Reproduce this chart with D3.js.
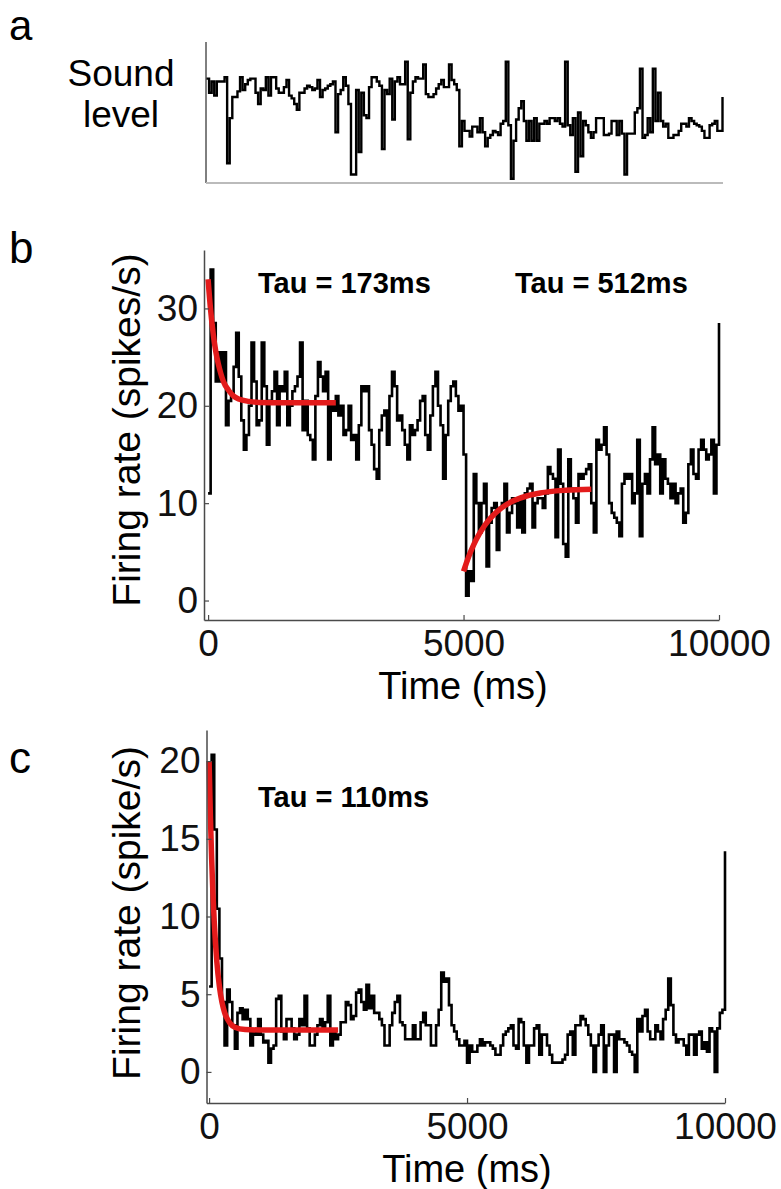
<!DOCTYPE html>
<html><head><meta charset="utf-8">
<script src="https://cdn.jsdelivr.net/npm/d3@7"></script>
<style>body{margin:0;background:#fff}svg{display:block}text{font-family:"Liberation Sans",Arial,sans-serif}</style>
</head><body>
<svg id="fig" width="781" height="1189"></svg>
<script>
// ---------- DATA (50 ms bins, 0..10000 ms; last entry is the value at 10000 ms) ----------
const binMs = 50;
const soundLevel = [
74,64,72,62,72,72,72,75,14,46, 61,61,65,75,66,70,73,74,74,64,
56,67,66,75,62,75,75,67,64,64, 68,73,62,60,56,52,64,64,67,69,
68,66,67,73,61,66,67,69,70,72, 36,63,66,75,69,56,6,6,66,22,
64,48,46,68,75,75,72,69,24,66, 63,74,45,72,75,70,70,86,31,64,
72,75,74,74,84,63,61,61,63,67, 70,73,68,68,84,73,70,66,26,44,
37,37,33,40,40,36,46,36,26,32, 34,37,36,34,42,44,86,41,3,30,
45,53,58,44,30,44,30,46,30,42, 42,44,42,46,46,44,46,42,40,86,
41,34,46,8,50,19,44,41,36,32, 36,46,46,46,34,34,35,44,44,34,
44,35,6,35,35,35,50,53,81,32, 34,46,36,81,44,64,44,40,42,32,
32,34,34,37,42,42,40,46,44,42, 41,40,37,32,32,41,42,44,37,37, 61];

const rateB = [
11,34,28.5,22.5,25.5,22.5,25.5,18,20.5,21, 24,27.5,23,18.5,15.5,17,20,26.5,22.5,18,
18.5,26.5,22,16,20.5,21.5,23.5,18,22,21.5, 23.5,18,20,21.5,22,23,26.5,17.5,20.5,17,
16.5,14.5,21,24.5,23,21.5,23.5,14.5,20,19.5, 21,19,20,17,17.5,20,16.5,17,14.5,18,
22,21.5,22,17.5,16,13.5,12.5,17.5,19,19.5, 16,21,23.5,22,18.5,19,17.5,16,14.5,18,
17,17.5,18.5,20.5,21,17,15.5,19,22,23.5, 20,18,12.5,17,20.5,22,22.5,21,19.5,20,
15,0.5,3,2,13,10,7,10,12,3.5, 8,9.5,10,5.2,9.5,10,12,7,9,10.5,
10,7.5,10.5,7,11,11.5,12,7.5,10,10.5, 10.5,9.5,11,13.7,13,12.5,6.5,15.5,12,5.8,
4.5,14.5,11.5,10.5,8,13,12.5,13,13.5,14, 10,7,16.5,15.5,16,17.8,15,10,9,8.5,
8,6.6,12,13,12.5,13,10,11,16.5,6.6, 12,13,11,14.5,17.8,14,15,11,14.5,12.5,
12,10.5,12,10,11,11.5,8,9,14,15.5, 13,12.5,15.5,16.5,15.5,14.5,15,16.5,11,16, 28.5];

const rateC = [
5.5,20.4,15.6,10.5,7.3,4.5,1.7,5.3,4.5,3.0, 1.5,3.8,4.1,3.4,4.0,3.4,1.7,2.6,2.4,3.4,
2.4,1.9,2.0,0.6,1.5,1.7,4.7,4.9,2.6,2.1, 3.4,3.4,2.8,2.1,2.4,3.4,3.0,4.9,2.8,1.7,
1.7,2.4,3.0,3.4,2.8,3.2,4.9,1.7,2.6,2.1, 2.4,3.2,3.2,4.5,4.3,3.4,3.6,5.1,5.3,4.5,
4.0,5.6,4.1,4.9,3.8,3.8,3.4,3.0,1.7,1.7, 3.0,3.8,4.5,4.9,3.2,3.0,2.1,2.1,2.1,3.0,
2.1,2.1,3.2,3.8,3.0,3.0,1.7,1.7,3.0,4.0, 6.4,5.8,6.0,4.3,3.0,2.6,2.1,1.7,1.7,2.0,
0.6,1.7,1.3,1.3,1.7,2.1,1.7,1.9,1.9,1.7, 1.5,1.1,1.1,1.7,2.4,2.6,2.8,3.0,1.7,1.5,
3.4,3.2,1.7,0.6,1.7,1.7,2.8,3.0,1.1,2.4, 2.4,1.7,1.1,0.6,0.6,0.6,0.6,0.8,1.1,2.4,
2.6,1.1,3.0,3.0,3.6,3.4,3.0,2.4,1.7,0, 1.7,2.4,3.0,0,1.7,2.4,2.4,0,2.6,2.1,
2.1,1.9,1.7,1.3,1.1,0,3.4,2.6,3.6,4.0, 2.6,2.1,2.1,3.0,2.6,2.1,3.4,4.0,6.0,4.3,
2.4,1.9,2.1,2.1,1.7,1.1,2.4,2.4,1.1,2.4, 2.6,1.5,1.9,1.3,2.8,2.6,0,2.8,3.8,4.0, 14.2];

// exponential fits, sampled from the figure
const fitB1Time = [0,50,100,150,200,250,300,400,500,600,800,1000,1500,2000,2500];
const fitB1Rate = [33.0,29.8,27.4,25.6,24.3,23.3,22.5,21.6,21.0,20.7,20.45,20.35,20.3,20.3,20.3];
const fitB2Time = [5000,5100,5200,5300,5400,5500,5750,6000,6250,6500,7000,7500];
const fitB2Rate = [3.0,4.5,5.75,6.77,7.6,8.3,9.54,10.29,10.76,11.05,11.33,11.44];
const fitCTime = [0,25,50,75,100,125,150,200,250,300,400,500,700,1000,1500,2500];
const fitCRate = [20.0,16.5,13.7,11.45,9.67,8.25,7.1,5.5,4.48,3.83,3.16,2.88,2.73,2.7,2.7,2.7];

const xTicks = [0, 5000, 10000];
const yTicksB = [0, 10, 20, 30];
const yTicksC = [0, 5, 10, 15, 20];
const tauLabelsB = ["Tau = 173ms", "Tau = 512ms"];
const tauLabelC = "Tau = 110ms";

// ---------- DRAW ----------
const svg = d3.select("#fig");
const RED = "#e31b1b";
const AX = "#4a4a4a";

function stairs(g, x, y, vals, w) {
  const pts = vals.map((v, i) => [i * binMs, v]);
  g.append("path").datum(pts)
    .attr("fill", "none").attr("stroke", "#000").attr("stroke-width", w)
    .attr("d", d3.line().x(d => x(d[0])).y(d => y(d[1])).curve(d3.curveStepAfter));
}
function fit(g, x, y, ts, vs) {
  g.append("path").datum(ts.map((t, i) => [t, vs[i]]))
    .attr("fill", "none").attr("stroke", RED).attr("stroke-width", 5.5)
    .attr("d", d3.line().x(d => x(d[0])).y(d => y(d[1])).curve(d3.curveMonotoneX));
}
function styleAxis(a) {
  a.select(".domain").attr("stroke", AX).attr("stroke-width", 1.5);
  a.selectAll(".tick line").attr("stroke", AX).attr("stroke-width", 1.2);
  a.selectAll("text").attr("fill", "#111").style("font-size", "37px")
    .style("font-family", '"Liberation Sans", Arial, sans-serif');
}

// Panel a
svg.append("text").attr("x", 9).attr("y", 40).style("font-size", "42px").text("a");
svg.append("text").attr("x", 121).attr("y", 86).attr("text-anchor", "middle").style("font-size", "37px").text("Sound");
svg.append("text").attr("x", 121).attr("y", 127).attr("text-anchor", "middle").style("font-size", "37px").text("level");
const xa = d3.scaleLinear().domain([0, 10000]).range([206.5, 722.5]);
const ya = d3.scaleLinear().domain([0, 100]).range([183, 42]);
const ga = svg.append("g");
ga.append("line").attr("x1", 206).attr("x2", 206).attr("y1", ya(100)).attr("y2", ya(0)).attr("stroke", "#000").attr("stroke-width", 1);
ga.append("line").attr("x1", 206).attr("x2", 723).attr("y1", ya(0)).attr("y2", ya(0)).attr("stroke", "#bbb").attr("stroke-width", 2);
stairs(ga, xa, ya, soundLevel, 2.4);

// Panel b
svg.append("text").attr("x", 9).attr("y", 263).style("font-size", "44px").text("b");
const xb = d3.scaleLinear().domain([-80, 10000]).range([204, 719]);
const yb = d3.scaleLinear().domain([-2, 36]).range([620, 250]);
const gb = svg.append("g");
stairs(gb, xb, yb, rateB, 2.6);
fit(gb, xb, yb, fitB1Time, fitB1Rate);
fit(gb, xb, yb, fitB2Time, fitB2Rate);
styleAxis(gb.append("g").attr("transform", "translate(0,620)")
  .call(d3.axisBottom(xb).tickValues(xTicks).tickSizeInner(-5).tickSizeOuter(0).tickPadding(10).tickFormat(d3.format("d"))));
styleAxis(gb.append("g").attr("transform", "translate(204,0)")
  .call(d3.axisLeft(yb).tickValues(yTicksB).tickSizeInner(-5).tickSizeOuter(0).tickPadding(6)));
gb.append("text").attr("x", 258).attr("y", 293).style("font-size", "29px").style("font-weight", "bold").text(tauLabelsB[0]);
gb.append("text").attr("x", 515).attr("y", 293).style("font-size", "29px").style("font-weight", "bold").text(tauLabelsB[1]);
gb.append("text").attr("x", 463).attr("y", 699).attr("text-anchor", "middle").style("font-size", "38px").text("Time (ms)");
gb.append("text").attr("transform", "translate(140,430) rotate(-90)").attr("text-anchor", "middle").style("font-size", "39px").text("Firing rate (spikes/s)");

// Panel c
svg.append("text").attr("x", 9).attr("y", 773).style("font-size", "44px").text("c");
const xc = d3.scaleLinear().domain([-50, 10000]).range([206.5, 725]);
const yc = d3.scaleLinear().domain([-2, 22]).range([1103, 730]);
const gc = svg.append("g");
stairs(gc, xc, yc, rateC, 2.6);
fit(gc, xc, yc, fitCTime, fitCRate);
styleAxis(gc.append("g").attr("transform", "translate(0,1103)")
  .call(d3.axisBottom(xc).tickValues(xTicks).tickSizeInner(-5).tickSizeOuter(0).tickPadding(10).tickFormat(d3.format("d"))));
styleAxis(gc.append("g").attr("transform", "translate(206.5,0)")
  .call(d3.axisLeft(yc).tickValues(yTicksC).tickSizeInner(-5).tickSizeOuter(0).tickPadding(6)));
gc.append("text").attr("x", 258).attr("y", 807).style("font-size", "29px").style("font-weight", "bold").text(tauLabelC);
gc.append("text").attr("x", 467).attr("y", 1182).attr("text-anchor", "middle").style("font-size", "38px").text("Time (ms)");
gc.append("text").attr("transform", "translate(140,913) rotate(-90)").attr("text-anchor", "middle").style("font-size", "39px").text("Firing rate (spike/s)");
</script>
</body></html>
